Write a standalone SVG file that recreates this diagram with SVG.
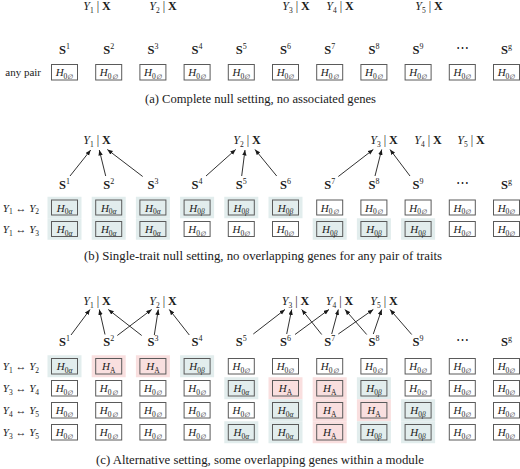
<svg xmlns="http://www.w3.org/2000/svg" width="520" height="469" viewBox="0 0 520 469" font-family="'Liberation Serif', 'DejaVu Serif', serif">
<defs>
<marker id="ah" markerUnits="userSpaceOnUse" markerWidth="6" markerHeight="5" refX="5.5" refY="2.2" orient="auto">
<path d="M0,0 L5.5,2.2 L0,4.4 z" fill="#1a1a1a"/>
</marker>
<style>
text{font-family:'Liberation Serif','DejaVu Serif',serif;fill:#1a1a1a}
.i{font-style:italic}
.b{font-weight:bold}
.h{font-size:11px;text-anchor:middle}
.sub{font-size:7.5px}
.o{font-size:6.5px;font-style:italic}
.sl{font-size:12.5px;text-anchor:middle}
.sup{font-size:8px}
.yl{font-size:12px;text-anchor:middle}
.rl{font-size:11px;text-anchor:end}
.cap{font-size:11.5px;text-anchor:middle}
.bx{fill:#fff;stroke:#5a5a5a;stroke-width:1}
.bs{fill:none;stroke:#5a5a5a;stroke-width:1}
.sb{fill:#e2eded}
.sp{fill:#f9dfdf}
.e{stroke:#1a1a1a;stroke-width:0.9;fill:none;marker-end:url(#ah)}
</style>
</defs>
<rect width="520" height="469" fill="#fff"/>

<!-- ===== (a) ===== -->
<g id="a-traits">
<text class="yl" x="97" y="10"><tspan class="i">Y</tspan><tspan class="sub" dy="2.5">1</tspan><tspan dy="-2.5"> | </tspan><tspan class="b">X</tspan></text>
<text class="yl" x="163" y="10"><tspan class="i">Y</tspan><tspan class="sub" dy="2.5">2</tspan><tspan dy="-2.5"> | </tspan><tspan class="b">X</tspan></text>
<text class="yl" x="296" y="10"><tspan class="i">Y</tspan><tspan class="sub" dy="2.5">3</tspan><tspan dy="-2.5"> | </tspan><tspan class="b">X</tspan></text>
<text class="yl" x="340" y="10"><tspan class="i">Y</tspan><tspan class="sub" dy="2.5">4</tspan><tspan dy="-2.5"> | </tspan><tspan class="b">X</tspan></text>
<text class="yl" x="429" y="10"><tspan class="i">Y</tspan><tspan class="sub" dy="2.5">5</tspan><tspan dy="-2.5"> | </tspan><tspan class="b">X</tspan></text>
</g>
<g id="a-sets">
<text class="sl" x="64.5" y="54"><tspan class="b">S</tspan><tspan class="sup" dy="-5">1</tspan></text>
<text class="sl" x="108.7" y="54"><tspan class="b">S</tspan><tspan class="sup" dy="-5">2</tspan></text>
<text class="sl" x="152.9" y="54"><tspan class="b">S</tspan><tspan class="sup" dy="-5">3</tspan></text>
<text class="sl" x="197.1" y="54"><tspan class="b">S</tspan><tspan class="sup" dy="-5">4</tspan></text>
<text class="sl" x="241.3" y="54"><tspan class="b">S</tspan><tspan class="sup" dy="-5">5</tspan></text>
<text class="sl" x="285.5" y="54"><tspan class="b">S</tspan><tspan class="sup" dy="-5">6</tspan></text>
<text class="sl" x="329.7" y="54"><tspan class="b">S</tspan><tspan class="sup" dy="-5">7</tspan></text>
<text class="sl" x="373.9" y="54"><tspan class="b">S</tspan><tspan class="sup" dy="-5">8</tspan></text>
<text class="sl" x="418.1" y="54"><tspan class="b">S</tspan><tspan class="sup" dy="-5">9</tspan></text>
<text class="sl" x="462.3" y="52">⋯</text>
<text class="sl" x="506.5" y="54"><tspan class="b">S</tspan><tspan class="sup" dy="-5">g</tspan></text>
</g>
<text class="rl" x="41" y="76">any pair</text>
<g id="a-cells">
<g id="a-c1"><rect class="bx" x="51.5" y="64.5" width="26" height="15.5"/><text class="h" x="64.5" y="76"><tspan class="i">H</tspan><tspan class="sub" dy="2.5">0<tspan class="o">∅</tspan></tspan></text></g>
<g id="a-c2"><rect class="bx" x="95.7" y="64.5" width="26" height="15.5"/><text class="h" x="108.7" y="76"><tspan class="i">H</tspan><tspan class="sub" dy="2.5">0<tspan class="o">∅</tspan></tspan></text></g>
<g id="a-c3"><rect class="bx" x="139.9" y="64.5" width="26" height="15.5"/><text class="h" x="152.9" y="76"><tspan class="i">H</tspan><tspan class="sub" dy="2.5">0<tspan class="o">∅</tspan></tspan></text></g>
<g id="a-c4"><rect class="bx" x="184.1" y="64.5" width="26" height="15.5"/><text class="h" x="197.1" y="76"><tspan class="i">H</tspan><tspan class="sub" dy="2.5">0<tspan class="o">∅</tspan></tspan></text></g>
<g id="a-c5"><rect class="bx" x="228.3" y="64.5" width="26" height="15.5"/><text class="h" x="241.3" y="76"><tspan class="i">H</tspan><tspan class="sub" dy="2.5">0<tspan class="o">∅</tspan></tspan></text></g>
<g id="a-c6"><rect class="bx" x="272.5" y="64.5" width="26" height="15.5"/><text class="h" x="285.5" y="76"><tspan class="i">H</tspan><tspan class="sub" dy="2.5">0<tspan class="o">∅</tspan></tspan></text></g>
<g id="a-c7"><rect class="bx" x="316.7" y="64.5" width="26" height="15.5"/><text class="h" x="329.7" y="76"><tspan class="i">H</tspan><tspan class="sub" dy="2.5">0<tspan class="o">∅</tspan></tspan></text></g>
<g id="a-c8"><rect class="bx" x="360.9" y="64.5" width="26" height="15.5"/><text class="h" x="373.9" y="76"><tspan class="i">H</tspan><tspan class="sub" dy="2.5">0<tspan class="o">∅</tspan></tspan></text></g>
<g id="a-c9"><rect class="bx" x="405.1" y="64.5" width="26" height="15.5"/><text class="h" x="418.1" y="76"><tspan class="i">H</tspan><tspan class="sub" dy="2.5">0<tspan class="o">∅</tspan></tspan></text></g>
<g id="a-c10"><rect class="bx" x="449.3" y="64.5" width="26" height="15.5"/><text class="h" x="462.3" y="76"><tspan class="i">H</tspan><tspan class="sub" dy="2.5">0<tspan class="o">∅</tspan></tspan></text></g>
<g id="a-c11"><rect class="bx" x="493.5" y="64.5" width="26" height="15.5"/><text class="h" x="506.5" y="76"><tspan class="i">H</tspan><tspan class="sub" dy="2.5">0<tspan class="o">∅</tspan></tspan></text></g>
</g>
<text class="cap" x="260.5" y="103" textLength="231" lengthAdjust="spacingAndGlyphs">(a) Complete null setting, no associated genes</text>

<!-- ===== (b) ===== -->
<g id="b-traits">
<text class="yl" x="97" y="144"><tspan class="i">Y</tspan><tspan class="sub" dy="2.5">1</tspan><tspan dy="-2.5"> | </tspan><tspan class="b">X</tspan></text>
<text class="yl" x="247" y="144"><tspan class="i">Y</tspan><tspan class="sub" dy="2.5">2</tspan><tspan dy="-2.5"> | </tspan><tspan class="b">X</tspan></text>
<text class="yl" x="384" y="144"><tspan class="i">Y</tspan><tspan class="sub" dy="2.5">3</tspan><tspan dy="-2.5"> | </tspan><tspan class="b">X</tspan></text>
<text class="yl" x="428" y="144"><tspan class="i">Y</tspan><tspan class="sub" dy="2.5">4</tspan><tspan dy="-2.5"> | </tspan><tspan class="b">X</tspan></text>
<text class="yl" x="471" y="144"><tspan class="i">Y</tspan><tspan class="sub" dy="2.5">5</tspan><tspan dy="-2.5"> | </tspan><tspan class="b">X</tspan></text>
</g>
<g id="b-edges">
<line class="e" x1="70" y1="176" x2="90.7" y2="150"/>
<line class="e" x1="105.7" y1="176" x2="99.3" y2="150"/>
<line class="e" x1="142.7" y1="176.5" x2="107.3" y2="149.5"/>
<line class="e" x1="206" y1="176" x2="235.7" y2="149.5"/>
<line class="e" x1="241.7" y1="176" x2="245" y2="150"/>
<line class="e" x1="276.7" y1="176" x2="255" y2="149.5"/>
<line class="e" x1="338.3" y1="176.5" x2="373.3" y2="149.5"/>
<line class="e" x1="375" y1="176" x2="381.7" y2="149.5"/>
<line class="e" x1="410" y1="176" x2="390" y2="149.5"/>
</g>
<g id="b-sets">
<text class="sl" x="64.5" y="189"><tspan class="b">S</tspan><tspan class="sup" dy="-5">1</tspan></text>
<text class="sl" x="108.7" y="189"><tspan class="b">S</tspan><tspan class="sup" dy="-5">2</tspan></text>
<text class="sl" x="152.9" y="189"><tspan class="b">S</tspan><tspan class="sup" dy="-5">3</tspan></text>
<text class="sl" x="197.1" y="189"><tspan class="b">S</tspan><tspan class="sup" dy="-5">4</tspan></text>
<text class="sl" x="241.3" y="189"><tspan class="b">S</tspan><tspan class="sup" dy="-5">5</tspan></text>
<text class="sl" x="285.5" y="189"><tspan class="b">S</tspan><tspan class="sup" dy="-5">6</tspan></text>
<text class="sl" x="329.7" y="189"><tspan class="b">S</tspan><tspan class="sup" dy="-5">7</tspan></text>
<text class="sl" x="373.9" y="189"><tspan class="b">S</tspan><tspan class="sup" dy="-5">8</tspan></text>
<text class="sl" x="418.1" y="189"><tspan class="b">S</tspan><tspan class="sup" dy="-5">9</tspan></text>
<text class="sl" x="462.3" y="187">⋯</text>
<text class="sl" x="506.5" y="189"><tspan class="b">S</tspan><tspan class="sup" dy="-5">g</tspan></text>
</g>
<text class="rl" x="39" y="211.5"><tspan class="i">Y</tspan><tspan class="sub" dy="2.5">1</tspan><tspan dy="-2.5"> ↔ </tspan><tspan class="i">Y</tspan><tspan class="sub" dy="2.5">2</tspan></text>
<text class="rl" x="39" y="233"><tspan class="i">Y</tspan><tspan class="sub" dy="2.5">1</tspan><tspan dy="-2.5"> ↔ </tspan><tspan class="i">Y</tspan><tspan class="sub" dy="2.5">3</tspan></text>
<g id="b-cells">
<!-- row 1 -->
<g id="b-r1-c1"><rect class="sb" x="47.5" y="196.75" width="34" height="21.5"/><rect class="bs" x="51.5" y="200" width="26" height="15"/><text class="h" x="64.5" y="211.5"><tspan class="i">H</tspan><tspan class="sub" dy="2.5">0<tspan class="i">α</tspan></tspan></text></g>
<g id="b-r1-c2"><rect class="sb" x="91.7" y="196.75" width="34" height="21.5"/><rect class="bs" x="95.7" y="200" width="26" height="15"/><text class="h" x="108.7" y="211.5"><tspan class="i">H</tspan><tspan class="sub" dy="2.5">0<tspan class="i">α</tspan></tspan></text></g>
<g id="b-r1-c3"><rect class="sb" x="135.9" y="196.75" width="34" height="21.5"/><rect class="bs" x="139.9" y="200" width="26" height="15"/><text class="h" x="152.9" y="211.5"><tspan class="i">H</tspan><tspan class="sub" dy="2.5">0<tspan class="i">α</tspan></tspan></text></g>
<g id="b-r1-c4"><rect class="sb" x="180.1" y="196.75" width="34" height="21.5"/><rect class="bs" x="184.1" y="200" width="26" height="15"/><text class="h" x="197.1" y="211.5"><tspan class="i">H</tspan><tspan class="sub" dy="2.5">0<tspan class="i">β</tspan></tspan></text></g>
<g id="b-r1-c5"><rect class="sb" x="224.3" y="196.75" width="34" height="21.5"/><rect class="bs" x="228.3" y="200" width="26" height="15"/><text class="h" x="241.3" y="211.5"><tspan class="i">H</tspan><tspan class="sub" dy="2.5">0<tspan class="i">β</tspan></tspan></text></g>
<g id="b-r1-c6"><rect class="sb" x="268.5" y="196.75" width="34" height="21.5"/><rect class="bs" x="272.5" y="200" width="26" height="15"/><text class="h" x="285.5" y="211.5"><tspan class="i">H</tspan><tspan class="sub" dy="2.5">0<tspan class="i">β</tspan></tspan></text></g>
<g id="b-r1-c7"><rect class="bx" x="316.7" y="200" width="26" height="15"/><text class="h" x="329.7" y="211.5"><tspan class="i">H</tspan><tspan class="sub" dy="2.5">0<tspan class="o">∅</tspan></tspan></text></g>
<g id="b-r1-c8"><rect class="bx" x="360.9" y="200" width="26" height="15"/><text class="h" x="373.9" y="211.5"><tspan class="i">H</tspan><tspan class="sub" dy="2.5">0<tspan class="o">∅</tspan></tspan></text></g>
<g id="b-r1-c9"><rect class="bx" x="405.1" y="200" width="26" height="15"/><text class="h" x="418.1" y="211.5"><tspan class="i">H</tspan><tspan class="sub" dy="2.5">0<tspan class="o">∅</tspan></tspan></text></g>
<g id="b-r1-c10"><rect class="bx" x="449.3" y="200" width="26" height="15"/><text class="h" x="462.3" y="211.5"><tspan class="i">H</tspan><tspan class="sub" dy="2.5">0<tspan class="o">∅</tspan></tspan></text></g>
<g id="b-r1-c11"><rect class="bx" x="493.5" y="200" width="26" height="15"/><text class="h" x="506.5" y="211.5"><tspan class="i">H</tspan><tspan class="sub" dy="2.5">0<tspan class="o">∅</tspan></tspan></text></g>
<!-- row 2 -->
<g id="b-r2-c1"><rect class="sb" x="47.5" y="218.25" width="34" height="21.5"/><rect class="bs" x="51.5" y="221.5" width="26" height="15"/><text class="h" x="64.5" y="233"><tspan class="i">H</tspan><tspan class="sub" dy="2.5">0<tspan class="i">α</tspan></tspan></text></g>
<g id="b-r2-c2"><rect class="sb" x="91.7" y="218.25" width="34" height="21.5"/><rect class="bs" x="95.7" y="221.5" width="26" height="15"/><text class="h" x="108.7" y="233"><tspan class="i">H</tspan><tspan class="sub" dy="2.5">0<tspan class="i">α</tspan></tspan></text></g>
<g id="b-r2-c3"><rect class="sb" x="135.9" y="218.25" width="34" height="21.5"/><rect class="bs" x="139.9" y="221.5" width="26" height="15"/><text class="h" x="152.9" y="233"><tspan class="i">H</tspan><tspan class="sub" dy="2.5">0<tspan class="i">α</tspan></tspan></text></g>
<g id="b-r2-c4"><rect class="bx" x="184.1" y="221.5" width="26" height="15"/><text class="h" x="197.1" y="233"><tspan class="i">H</tspan><tspan class="sub" dy="2.5">0<tspan class="o">∅</tspan></tspan></text></g>
<g id="b-r2-c5"><rect class="bx" x="228.3" y="221.5" width="26" height="15"/><text class="h" x="241.3" y="233"><tspan class="i">H</tspan><tspan class="sub" dy="2.5">0<tspan class="o">∅</tspan></tspan></text></g>
<g id="b-r2-c6"><rect class="bx" x="272.5" y="221.5" width="26" height="15"/><text class="h" x="285.5" y="233"><tspan class="i">H</tspan><tspan class="sub" dy="2.5">0<tspan class="o">∅</tspan></tspan></text></g>
<g id="b-r2-c7"><rect class="sb" x="312.7" y="218.25" width="34" height="21.5"/><rect class="bs" x="316.7" y="221.5" width="26" height="15"/><text class="h" x="329.7" y="233"><tspan class="i">H</tspan><tspan class="sub" dy="2.5">0<tspan class="i">β</tspan></tspan></text></g>
<g id="b-r2-c8"><rect class="sb" x="356.9" y="218.25" width="34" height="21.5"/><rect class="bs" x="360.9" y="221.5" width="26" height="15"/><text class="h" x="373.9" y="233"><tspan class="i">H</tspan><tspan class="sub" dy="2.5">0<tspan class="i">β</tspan></tspan></text></g>
<g id="b-r2-c9"><rect class="sb" x="401.1" y="218.25" width="34" height="21.5"/><rect class="bs" x="405.1" y="221.5" width="26" height="15"/><text class="h" x="418.1" y="233"><tspan class="i">H</tspan><tspan class="sub" dy="2.5">0<tspan class="i">β</tspan></tspan></text></g>
<g id="b-r2-c10"><rect class="bx" x="449.3" y="221.5" width="26" height="15"/><text class="h" x="462.3" y="233"><tspan class="i">H</tspan><tspan class="sub" dy="2.5">0<tspan class="o">∅</tspan></tspan></text></g>
<g id="b-r2-c11"><rect class="bx" x="493.5" y="221.5" width="26" height="15"/><text class="h" x="506.5" y="233"><tspan class="i">H</tspan><tspan class="sub" dy="2.5">0<tspan class="o">∅</tspan></tspan></text></g>
</g>
<text class="cap" x="263" y="260" textLength="358" lengthAdjust="spacingAndGlyphs">(b) Single-trait null setting, no overlapping genes for any pair of traits</text>

<!-- ===== (c) ===== -->
<g id="c-traits">
<text class="yl" x="97" y="305"><tspan class="i">Y</tspan><tspan class="sub" dy="2.5">1</tspan><tspan dy="-2.5"> | </tspan><tspan class="b">X</tspan></text>
<text class="yl" x="163" y="305"><tspan class="i">Y</tspan><tspan class="sub" dy="2.5">2</tspan><tspan dy="-2.5"> | </tspan><tspan class="b">X</tspan></text>
<text class="yl" x="295.5" y="305"><tspan class="i">Y</tspan><tspan class="sub" dy="2.5">3</tspan><tspan dy="-2.5"> | </tspan><tspan class="b">X</tspan></text>
<text class="yl" x="339.5" y="305"><tspan class="i">Y</tspan><tspan class="sub" dy="2.5">4</tspan><tspan dy="-2.5"> | </tspan><tspan class="b">X</tspan></text>
<text class="yl" x="384" y="305"><tspan class="i">Y</tspan><tspan class="sub" dy="2.5">5</tspan><tspan dy="-2.5"> | </tspan><tspan class="b">X</tspan></text>
</g>
<g id="c-edges">
<line class="e" x1="71" y1="335" x2="90" y2="309.5"/>
<line class="e" x1="105" y1="334.5" x2="99.3" y2="309.5"/>
<line class="e" x1="117.3" y1="335.5" x2="151.7" y2="309.5"/>
<line class="e" x1="141.7" y1="335.5" x2="108.3" y2="309.5"/>
<line class="e" x1="154.3" y1="335" x2="158.3" y2="309.5"/>
<line class="e" x1="189.3" y1="335" x2="169.3" y2="309.5"/>
<line class="e" x1="253.3" y1="334" x2="285" y2="309.5"/>
<line class="e" x1="286.7" y1="334" x2="291.7" y2="309.5"/>
<line class="e" x1="295" y1="334.5" x2="329" y2="309.5"/>
<line class="e" x1="321.7" y1="334.5" x2="301.7" y2="309.5"/>
<line class="e" x1="331.7" y1="334" x2="338.3" y2="309.5"/>
<line class="e" x1="338.3" y1="334" x2="373.3" y2="309.5"/>
<line class="e" x1="366.7" y1="334.5" x2="345" y2="309.5"/>
<line class="e" x1="373.3" y1="334" x2="381.7" y2="309.5"/>
<line class="e" x1="411.7" y1="334.5" x2="390" y2="309.5"/>
</g>
<g id="c-sets">
<text class="sl" x="64.5" y="345.5"><tspan class="b">S</tspan><tspan class="sup" dy="-5">1</tspan></text>
<text class="sl" x="108.7" y="345.5"><tspan class="b">S</tspan><tspan class="sup" dy="-5">2</tspan></text>
<text class="sl" x="152.9" y="345.5"><tspan class="b">S</tspan><tspan class="sup" dy="-5">3</tspan></text>
<text class="sl" x="197.1" y="345.5"><tspan class="b">S</tspan><tspan class="sup" dy="-5">4</tspan></text>
<text class="sl" x="241.3" y="345.5"><tspan class="b">S</tspan><tspan class="sup" dy="-5">5</tspan></text>
<text class="sl" x="285.5" y="345.5"><tspan class="b">S</tspan><tspan class="sup" dy="-5">6</tspan></text>
<text class="sl" x="329.7" y="345.5"><tspan class="b">S</tspan><tspan class="sup" dy="-5">7</tspan></text>
<text class="sl" x="373.9" y="345.5"><tspan class="b">S</tspan><tspan class="sup" dy="-5">8</tspan></text>
<text class="sl" x="418.1" y="345.5"><tspan class="b">S</tspan><tspan class="sup" dy="-5">9</tspan></text>
<text class="sl" x="462.3" y="343.5">⋯</text>
<text class="sl" x="506.5" y="345.5"><tspan class="b">S</tspan><tspan class="sup" dy="-5">g</tspan></text>
</g>
<text class="rl" x="39" y="370"><tspan class="i">Y</tspan><tspan class="sub" dy="2.5">1</tspan><tspan dy="-2.5"> ↔ </tspan><tspan class="i">Y</tspan><tspan class="sub" dy="2.5">2</tspan></text>
<text class="rl" x="39" y="392"><tspan class="i">Y</tspan><tspan class="sub" dy="2.5">3</tspan><tspan dy="-2.5"> ↔ </tspan><tspan class="i">Y</tspan><tspan class="sub" dy="2.5">4</tspan></text>
<text class="rl" x="39" y="414"><tspan class="i">Y</tspan><tspan class="sub" dy="2.5">4</tspan><tspan dy="-2.5"> ↔ </tspan><tspan class="i">Y</tspan><tspan class="sub" dy="2.5">5</tspan></text>
<text class="rl" x="39" y="436"><tspan class="i">Y</tspan><tspan class="sub" dy="2.5">3</tspan><tspan dy="-2.5"> ↔ </tspan><tspan class="i">Y</tspan><tspan class="sub" dy="2.5">5</tspan></text>
<g id="c-cells">
<!-- row 1 -->
<g id="c-r1-c1"><rect class="sb" x="47.5" y="355.25" width="34" height="22"/><rect class="bs" x="51.5" y="358.5" width="26" height="15.5"/><text class="h" x="64.5" y="370"><tspan class="i">H</tspan><tspan class="sub" dy="2.5">0<tspan class="i">α</tspan></tspan></text></g>
<g id="c-r1-c2"><rect class="sp" x="91.7" y="355.25" width="34" height="22"/><rect class="bs" x="95.7" y="358.5" width="26" height="15.5"/><text class="h" x="108.7" y="370"><tspan class="i">H</tspan><tspan class="sub" dy="2.5">A</tspan></text></g>
<g id="c-r1-c3"><rect class="sp" x="135.9" y="355.25" width="34" height="22"/><rect class="bs" x="139.9" y="358.5" width="26" height="15.5"/><text class="h" x="152.9" y="370"><tspan class="i">H</tspan><tspan class="sub" dy="2.5">A</tspan></text></g>
<g id="c-r1-c4"><rect class="sb" x="180.1" y="355.25" width="34" height="22"/><rect class="bs" x="184.1" y="358.5" width="26" height="15.5"/><text class="h" x="197.1" y="370"><tspan class="i">H</tspan><tspan class="sub" dy="2.5">0<tspan class="i">β</tspan></tspan></text></g>
<g id="c-r1-c5"><rect class="bx" x="228.3" y="358.5" width="26" height="15.5"/><text class="h" x="241.3" y="370"><tspan class="i">H</tspan><tspan class="sub" dy="2.5">0<tspan class="o">∅</tspan></tspan></text></g>
<g id="c-r1-c6"><rect class="bx" x="272.5" y="358.5" width="26" height="15.5"/><text class="h" x="285.5" y="370"><tspan class="i">H</tspan><tspan class="sub" dy="2.5">0<tspan class="o">∅</tspan></tspan></text></g>
<g id="c-r1-c7"><rect class="bx" x="316.7" y="358.5" width="26" height="15.5"/><text class="h" x="329.7" y="370"><tspan class="i">H</tspan><tspan class="sub" dy="2.5">0<tspan class="o">∅</tspan></tspan></text></g>
<g id="c-r1-c8"><rect class="bx" x="360.9" y="358.5" width="26" height="15.5"/><text class="h" x="373.9" y="370"><tspan class="i">H</tspan><tspan class="sub" dy="2.5">0<tspan class="o">∅</tspan></tspan></text></g>
<g id="c-r1-c9"><rect class="bx" x="405.1" y="358.5" width="26" height="15.5"/><text class="h" x="418.1" y="370"><tspan class="i">H</tspan><tspan class="sub" dy="2.5">0<tspan class="o">∅</tspan></tspan></text></g>
<g id="c-r1-c10"><rect class="bx" x="449.3" y="358.5" width="26" height="15.5"/><text class="h" x="462.3" y="370"><tspan class="i">H</tspan><tspan class="sub" dy="2.5">0<tspan class="o">∅</tspan></tspan></text></g>
<g id="c-r1-c11"><rect class="bx" x="493.5" y="358.5" width="26" height="15.5"/><text class="h" x="506.5" y="370"><tspan class="i">H</tspan><tspan class="sub" dy="2.5">0<tspan class="o">∅</tspan></tspan></text></g>
<!-- row 2 -->
<g id="c-r2-c1"><rect class="bx" x="51.5" y="380.5" width="26" height="15.5"/><text class="h" x="64.5" y="392"><tspan class="i">H</tspan><tspan class="sub" dy="2.5">0<tspan class="o">∅</tspan></tspan></text></g>
<g id="c-r2-c2"><rect class="bx" x="95.7" y="380.5" width="26" height="15.5"/><text class="h" x="108.7" y="392"><tspan class="i">H</tspan><tspan class="sub" dy="2.5">0<tspan class="o">∅</tspan></tspan></text></g>
<g id="c-r2-c3"><rect class="bx" x="139.9" y="380.5" width="26" height="15.5"/><text class="h" x="152.9" y="392"><tspan class="i">H</tspan><tspan class="sub" dy="2.5">0<tspan class="o">∅</tspan></tspan></text></g>
<g id="c-r2-c4"><rect class="bx" x="184.1" y="380.5" width="26" height="15.5"/><text class="h" x="197.1" y="392"><tspan class="i">H</tspan><tspan class="sub" dy="2.5">0<tspan class="o">∅</tspan></tspan></text></g>
<g id="c-r2-c5"><rect class="sb" x="224.3" y="377.25" width="34" height="22"/><rect class="bs" x="228.3" y="380.5" width="26" height="15.5"/><text class="h" x="241.3" y="392"><tspan class="i">H</tspan><tspan class="sub" dy="2.5">0<tspan class="i">α</tspan></tspan></text></g>
<g id="c-r2-c6"><rect class="sp" x="268.5" y="377.25" width="34" height="22"/><rect class="bs" x="272.5" y="380.5" width="26" height="15.5"/><text class="h" x="285.5" y="392"><tspan class="i">H</tspan><tspan class="sub" dy="2.5">A</tspan></text></g>
<g id="c-r2-c7"><rect class="sp" x="312.7" y="377.25" width="34" height="22"/><rect class="bs" x="316.7" y="380.5" width="26" height="15.5"/><text class="h" x="329.7" y="392"><tspan class="i">H</tspan><tspan class="sub" dy="2.5">A</tspan></text></g>
<g id="c-r2-c8"><rect class="sb" x="356.9" y="377.25" width="34" height="22"/><rect class="bs" x="360.9" y="380.5" width="26" height="15.5"/><text class="h" x="373.9" y="392"><tspan class="i">H</tspan><tspan class="sub" dy="2.5">0<tspan class="i">β</tspan></tspan></text></g>
<g id="c-r2-c9"><rect class="bx" x="405.1" y="380.5" width="26" height="15.5"/><text class="h" x="418.1" y="392"><tspan class="i">H</tspan><tspan class="sub" dy="2.5">0<tspan class="o">∅</tspan></tspan></text></g>
<g id="c-r2-c10"><rect class="bx" x="449.3" y="380.5" width="26" height="15.5"/><text class="h" x="462.3" y="392"><tspan class="i">H</tspan><tspan class="sub" dy="2.5">0<tspan class="o">∅</tspan></tspan></text></g>
<g id="c-r2-c11"><rect class="bx" x="493.5" y="380.5" width="26" height="15.5"/><text class="h" x="506.5" y="392"><tspan class="i">H</tspan><tspan class="sub" dy="2.5">0<tspan class="o">∅</tspan></tspan></text></g>
<!-- row 3 -->
<g id="c-r3-c1"><rect class="bx" x="51.5" y="402.5" width="26" height="15.5"/><text class="h" x="64.5" y="414"><tspan class="i">H</tspan><tspan class="sub" dy="2.5">0<tspan class="o">∅</tspan></tspan></text></g>
<g id="c-r3-c2"><rect class="bx" x="95.7" y="402.5" width="26" height="15.5"/><text class="h" x="108.7" y="414"><tspan class="i">H</tspan><tspan class="sub" dy="2.5">0<tspan class="o">∅</tspan></tspan></text></g>
<g id="c-r3-c3"><rect class="bx" x="139.9" y="402.5" width="26" height="15.5"/><text class="h" x="152.9" y="414"><tspan class="i">H</tspan><tspan class="sub" dy="2.5">0<tspan class="o">∅</tspan></tspan></text></g>
<g id="c-r3-c4"><rect class="bx" x="184.1" y="402.5" width="26" height="15.5"/><text class="h" x="197.1" y="414"><tspan class="i">H</tspan><tspan class="sub" dy="2.5">0<tspan class="o">∅</tspan></tspan></text></g>
<g id="c-r3-c5"><rect class="bx" x="228.3" y="402.5" width="26" height="15.5"/><text class="h" x="241.3" y="414"><tspan class="i">H</tspan><tspan class="sub" dy="2.5">0<tspan class="o">∅</tspan></tspan></text></g>
<g id="c-r3-c6"><rect class="sb" x="268.5" y="399.25" width="34" height="22"/><rect class="bs" x="272.5" y="402.5" width="26" height="15.5"/><text class="h" x="285.5" y="414"><tspan class="i">H</tspan><tspan class="sub" dy="2.5">0<tspan class="i">α</tspan></tspan></text></g>
<g id="c-r3-c7"><rect class="sp" x="312.7" y="399.25" width="34" height="22"/><rect class="bs" x="316.7" y="402.5" width="26" height="15.5"/><text class="h" x="329.7" y="414"><tspan class="i">H</tspan><tspan class="sub" dy="2.5">A</tspan></text></g>
<g id="c-r3-c8"><rect class="sp" x="356.9" y="399.25" width="34" height="22"/><rect class="bs" x="360.9" y="402.5" width="26" height="15.5"/><text class="h" x="373.9" y="414"><tspan class="i">H</tspan><tspan class="sub" dy="2.5">A</tspan></text></g>
<g id="c-r3-c9"><rect class="sb" x="401.1" y="399.25" width="34" height="22"/><rect class="bs" x="405.1" y="402.5" width="26" height="15.5"/><text class="h" x="418.1" y="414"><tspan class="i">H</tspan><tspan class="sub" dy="2.5">0<tspan class="i">β</tspan></tspan></text></g>
<g id="c-r3-c10"><rect class="bx" x="449.3" y="402.5" width="26" height="15.5"/><text class="h" x="462.3" y="414"><tspan class="i">H</tspan><tspan class="sub" dy="2.5">0<tspan class="o">∅</tspan></tspan></text></g>
<g id="c-r3-c11"><rect class="bx" x="493.5" y="402.5" width="26" height="15.5"/><text class="h" x="506.5" y="414"><tspan class="i">H</tspan><tspan class="sub" dy="2.5">0<tspan class="o">∅</tspan></tspan></text></g>
<!-- row 4 -->
<g id="c-r4-c1"><rect class="bx" x="51.5" y="424.5" width="26" height="15.5"/><text class="h" x="64.5" y="436"><tspan class="i">H</tspan><tspan class="sub" dy="2.5">0<tspan class="o">∅</tspan></tspan></text></g>
<g id="c-r4-c2"><rect class="bx" x="95.7" y="424.5" width="26" height="15.5"/><text class="h" x="108.7" y="436"><tspan class="i">H</tspan><tspan class="sub" dy="2.5">0<tspan class="o">∅</tspan></tspan></text></g>
<g id="c-r4-c3"><rect class="bx" x="139.9" y="424.5" width="26" height="15.5"/><text class="h" x="152.9" y="436"><tspan class="i">H</tspan><tspan class="sub" dy="2.5">0<tspan class="o">∅</tspan></tspan></text></g>
<g id="c-r4-c4"><rect class="bx" x="184.1" y="424.5" width="26" height="15.5"/><text class="h" x="197.1" y="436"><tspan class="i">H</tspan><tspan class="sub" dy="2.5">0<tspan class="o">∅</tspan></tspan></text></g>
<g id="c-r4-c5"><rect class="sb" x="224.3" y="421.25" width="34" height="22"/><rect class="bs" x="228.3" y="424.5" width="26" height="15.5"/><text class="h" x="241.3" y="436"><tspan class="i">H</tspan><tspan class="sub" dy="2.5">0<tspan class="i">α</tspan></tspan></text></g>
<g id="c-r4-c6"><rect class="sb" x="268.5" y="421.25" width="34" height="22"/><rect class="bs" x="272.5" y="424.5" width="26" height="15.5"/><text class="h" x="285.5" y="436"><tspan class="i">H</tspan><tspan class="sub" dy="2.5">0<tspan class="i">α</tspan></tspan></text></g>
<g id="c-r4-c7"><rect class="sp" x="312.7" y="421.25" width="34" height="22"/><rect class="bs" x="316.7" y="424.5" width="26" height="15.5"/><text class="h" x="329.7" y="436"><tspan class="i">H</tspan><tspan class="sub" dy="2.5">A</tspan></text></g>
<g id="c-r4-c8"><rect class="sb" x="356.9" y="421.25" width="34" height="22"/><rect class="bs" x="360.9" y="424.5" width="26" height="15.5"/><text class="h" x="373.9" y="436"><tspan class="i">H</tspan><tspan class="sub" dy="2.5">0<tspan class="i">β</tspan></tspan></text></g>
<g id="c-r4-c9"><rect class="sb" x="401.1" y="421.25" width="34" height="22"/><rect class="bs" x="405.1" y="424.5" width="26" height="15.5"/><text class="h" x="418.1" y="436"><tspan class="i">H</tspan><tspan class="sub" dy="2.5">0<tspan class="i">β</tspan></tspan></text></g>
<g id="c-r4-c10"><rect class="bx" x="449.3" y="424.5" width="26" height="15.5"/><text class="h" x="462.3" y="436"><tspan class="i">H</tspan><tspan class="sub" dy="2.5">0<tspan class="o">∅</tspan></tspan></text></g>
<g id="c-r4-c11"><rect class="bx" x="493.5" y="424.5" width="26" height="15.5"/><text class="h" x="506.5" y="436"><tspan class="i">H</tspan><tspan class="sub" dy="2.5">0<tspan class="o">∅</tspan></tspan></text></g>
</g>
<text class="cap" x="260" y="464" textLength="328" lengthAdjust="spacingAndGlyphs">(c) Alternative setting, some overlapping genes within a module</text>
</svg>
